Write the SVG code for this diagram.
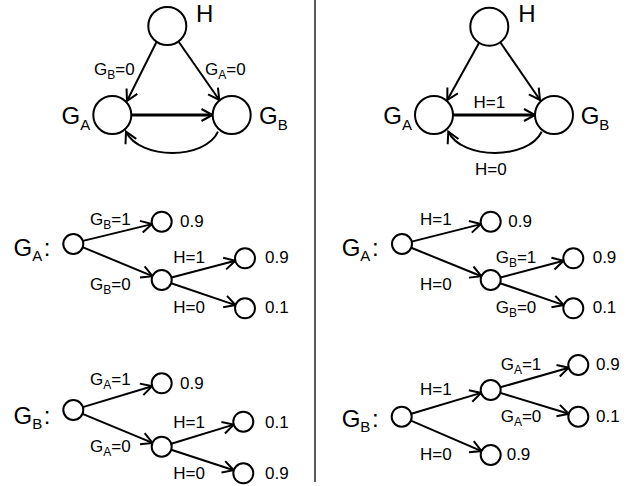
<svg xmlns="http://www.w3.org/2000/svg" width="634" height="486" viewBox="0 0 634 486">
<style>
text{font-family:"Liberation Sans",Arial,sans-serif;fill:#000}
.big{font-size:24px}
.sm{font-size:17px}
.node{fill:#fff;stroke:#000;stroke-width:2}
.edge{fill:none;stroke:#000;stroke-width:2;marker-end:url(#arr)}
.thick{stroke-width:3.2}
</style>
<defs>
<marker id="arr" viewBox="-13 -8 15 16" refX="0" refY="0" markerWidth="15" markerHeight="16" markerUnits="userSpaceOnUse" orient="auto" overflow="visible">
<path d="M-11,-6 L0,0 L-11,6" fill="none" stroke="#000" stroke-width="2"/>
</marker>
</defs>
<rect width="634" height="486" fill="#fff"/>
<line x1="315" y1="0" x2="315" y2="482" stroke="#000" stroke-width="1.3"/>

<g id="connectors">
<!-- top left -->
<line class="edge" x1="156.5" y1="42" x2="127" y2="101"/>
<line class="edge" x1="178.5" y1="41.5" x2="219.3" y2="100"/>
<line class="edge thick" x1="131.3" y1="115" x2="212.5" y2="115"/>
<path class="edge" d="M218,131.7 C205,160 140,160 126,131.7"/>
<!-- top right -->
<line class="edge" x1="479" y1="43" x2="447.3" y2="100"/>
<line class="edge" x1="500.3" y1="42.3" x2="540" y2="100"/>
<line class="edge thick" x1="453" y1="115" x2="535" y2="115"/>
<path class="edge" d="M541.7,131.7 C528,160 462,160 448.3,131.7"/>
<!-- middle left -->
<line class="edge" x1="83" y1="240.9" x2="152" y2="224.1"/>
<line class="edge" x1="82.5" y1="247.1" x2="152.5" y2="276.2"/>
<line class="edge" x1="171.4" y1="277.5" x2="235.3" y2="260.8"/>
<line class="edge" x1="171.2" y1="283.2" x2="235.5" y2="305.1"/>
<!-- middle right -->
<line class="edge" x1="411.7" y1="241.6" x2="481" y2="224.1"/>
<line class="edge" x1="411.3" y1="247.8" x2="481.4" y2="276.2"/>
<line class="edge" x1="500.4" y1="277.5" x2="563.6" y2="260.8"/>
<line class="edge" x1="500.2" y1="283.2" x2="563.8" y2="305.1"/>
<!-- bottom left -->
<line class="edge" x1="82.9" y1="407.1" x2="152.1" y2="386.2"/>
<line class="edge" x1="82.5" y1="413.8" x2="152.5" y2="442.9"/>
<line class="edge" x1="171.3" y1="443.8" x2="233.7" y2="424.6"/>
<line class="edge" x1="171.2" y1="449.8" x2="233.8" y2="470.2"/>
<!-- bottom right -->
<line class="edge" x1="411.3" y1="413.8" x2="481.1" y2="392.9"/>
<line class="edge" x1="410.9" y1="420.7" x2="481.5" y2="451.1"/>
<line class="edge" x1="500.3" y1="387.3" x2="568.7" y2="367.7"/>
<line class="edge" x1="500.3" y1="392.9" x2="568.7" y2="413.8"/>
</g>

<g id="edge-labels">
<text class="sm" x="94" y="75">G<tspan font-size="12" dy="4">B</tspan><tspan dy="-4">=0</tspan></text>
<text class="sm" x="205" y="75">G<tspan font-size="12" dy="4">A</tspan><tspan dy="-4">=0</tspan></text>
<text class="sm" x="473.5" y="108.3">H=1</text>
<text class="sm" x="475" y="175">H=0</text>

<text class="sm" x="90" y="225">G<tspan font-size="12" dy="4">B</tspan><tspan dy="-4">=1</tspan></text>
<text class="sm" x="90" y="290">G<tspan font-size="12" dy="4">B</tspan><tspan dy="-4">=0</tspan></text>
<text class="sm" x="173.3" y="263.3">H=1</text>
<text class="sm" x="173.3" y="313.3">H=0</text>

<text class="sm" x="420" y="225">H=1</text>
<text class="sm" x="420" y="290">H=0</text>
<text class="sm" x="495.7" y="263.3">G<tspan font-size="12" dy="4">B</tspan><tspan dy="-4">=1</tspan></text>
<text class="sm" x="495.7" y="313.3">G<tspan font-size="12" dy="4">B</tspan><tspan dy="-4">=0</tspan></text>

<text class="sm" x="90" y="385">G<tspan font-size="12" dy="4">A</tspan><tspan dy="-4">=1</tspan></text>
<text class="sm" x="90" y="451.7">G<tspan font-size="12" dy="4">A</tspan><tspan dy="-4">=0</tspan></text>
<text class="sm" x="173.3" y="427.7">H=1</text>
<text class="sm" x="173.3" y="479.3">H=0</text>

<text class="sm" x="420" y="395">H=1</text>
<text class="sm" x="420" y="460">H=0</text>
<text class="sm" x="500.7" y="370">G<tspan font-size="12" dy="4">A</tspan><tspan dy="-4">=1</tspan></text>
<text class="sm" x="500.7" y="421.7">G<tspan font-size="12" dy="4">A</tspan><tspan dy="-4">=0</tspan></text>
</g>

<!-- top left graph -->
<g id="L-H"><circle class="node" cx="167.3" cy="26" r="19"/><text class="big" x="196" y="21.8">H</text></g>
<g id="L-GA"><circle class="node" cx="112.3" cy="115" r="19"/><text class="big" x="61.5" y="124">G<tspan font-size="15" dy="5.5">A</tspan></text></g>
<g id="L-GB"><circle class="node" cx="231.7" cy="115" r="19"/><text class="big" x="259" y="124">G<tspan font-size="15" dy="5.5">B</tspan></text></g>

<!-- top right graph -->
<g id="R-H"><circle class="node" cx="489.3" cy="26.7" r="19"/><text class="big" x="518.3" y="21.8">H</text></g>
<g id="R-GA"><circle class="node" cx="434" cy="115" r="19"/><text class="big" x="383.3" y="124">G<tspan font-size="15" dy="5.5">A</tspan></text></g>
<g id="R-GB"><circle class="node" cx="554" cy="115" r="19"/><text class="big" x="580.7" y="124">G<tspan font-size="15" dy="5.5">B</tspan></text></g>

<!-- middle left tree -->
<g id="t1-root"><circle class="node" cx="73.3" cy="244" r="10"/><text class="big" x="13.5" y="256">G<tspan font-size="15" dy="5">A</tspan><tspan dy="-5" dx="1.5">:</tspan></text></g>
<g id="t1-a"><circle class="node" cx="161.7" cy="221.7" r="10"/><text class="sm" x="180" y="226.7">0.9</text></g>
<g id="t1-b"><circle class="node" cx="161.7" cy="280" r="10"/></g>
<g id="t1-c"><circle class="node" cx="245" cy="258.3" r="10"/><text class="sm" x="265" y="263.3">0.9</text></g>
<g id="t1-d"><circle class="node" cx="245" cy="308.3" r="10"/><text class="sm" x="265" y="313.3">0.1</text></g>

<!-- middle right tree -->
<g id="t2-root"><circle class="node" cx="402" cy="244" r="10"/><text class="big" x="341.7" y="256">G<tspan font-size="15" dy="5">A</tspan><tspan dy="-5" dx="1.5">:</tspan></text></g>
<g id="t2-a"><circle class="node" cx="490.7" cy="221.7" r="10"/><text class="sm" x="508.3" y="226.7">0.9</text></g>
<g id="t2-b"><circle class="node" cx="490.7" cy="280" r="10"/></g>
<g id="t2-c"><circle class="node" cx="573.3" cy="258.3" r="10"/><text class="sm" x="592.7" y="263.3">0.9</text></g>
<g id="t2-d"><circle class="node" cx="573.3" cy="308.3" r="10"/><text class="sm" x="592.7" y="313.3">0.1</text></g>

<!-- bottom left tree -->
<g id="t3-root"><circle class="node" cx="73.3" cy="410" r="10"/><text class="big" x="13.5" y="423.5">G<tspan font-size="15" dy="5">B</tspan><tspan dy="-5" dx="1.5">:</tspan></text></g>
<g id="t3-a"><circle class="node" cx="161.7" cy="383.3" r="10"/><text class="sm" x="180" y="389.3">0.9</text></g>
<g id="t3-b"><circle class="node" cx="161.7" cy="446.7" r="10"/></g>
<g id="t3-c"><circle class="node" cx="243.3" cy="421.7" r="10"/><text class="sm" x="265" y="427.7">0.1</text></g>
<g id="t3-d"><circle class="node" cx="243.3" cy="473.3" r="10"/><text class="sm" x="265" y="479.3">0.9</text></g>

<!-- bottom right tree -->
<g id="t4-root"><circle class="node" cx="401.7" cy="416.7" r="10"/><text class="big" x="341.7" y="427">G<tspan font-size="15" dy="5">B</tspan><tspan dy="-5" dx="1.5">:</tspan></text></g>
<g id="t4-a"><circle class="node" cx="490.7" cy="390" r="10"/></g>
<g id="t4-b"><circle class="node" cx="490.7" cy="455" r="10"/><text class="sm" x="506.7" y="460">0.9</text></g>
<g id="t4-c"><circle class="node" cx="578.3" cy="365" r="10"/><text class="sm" x="596" y="370">0.9</text></g>
<g id="t4-d"><circle class="node" cx="578.3" cy="416.7" r="10"/><text class="sm" x="596" y="421.7">0.1</text></g>
</svg>
